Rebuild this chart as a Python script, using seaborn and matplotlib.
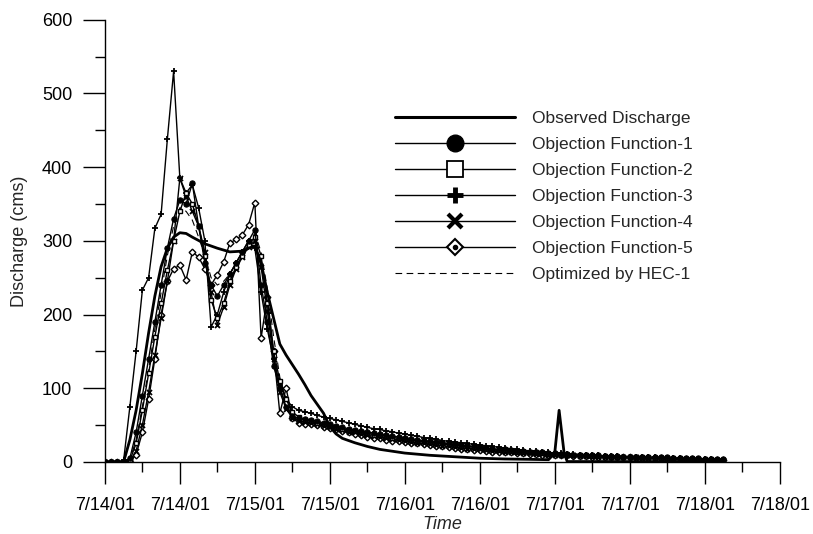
"""Observed vs simulated discharge hydrographs, July 2001 storm."""

import matplotlib

matplotlib.use("Agg")
import matplotlib.dates as mdates
import matplotlib.pyplot as plt
import pandas as pd
import seaborn as sns
from matplotlib.legend_handler import HandlerTuple
from matplotlib.lines import Line2D

START = pd.Timestamp("2001-07-14 00:00")
END = pd.Timestamp("2001-07-18 12:00")

# hourly model output, t = 0 .. 99 h after START
model_hours = list(range(100))

f1_q = [0, 0, 0, 0,
        5, 40, 90, 140, 190, 240, 290, 330, 355, 350,
        378, 320, 270, 240, 225, 240, 255, 270, 285, 300,
        315, 240, 190, 130, 100, 75, 62, 59, 58,
        57, 55, 53, 51, 49, 47, 45, 43, 42, 41,
        39, 38, 36, 35, 34, 33, 31, 30, 29, 28,
        27, 26, 25, 24, 23, 22, 21, 20, 19, 18,
        17, 17, 16, 15, 15, 14, 13, 13, 12, 12,
        11, 11, 10, 10, 9, 9, 9, 8, 8, 8,
        7, 7, 7, 7, 6, 6, 6, 6, 5, 5,
        5, 5, 5, 4, 4, 4, 4]

f2_q = [0, 0, 0, 0,
        2, 25, 70, 120, 170, 215, 260, 300, 340, 365,
        350, 320, 280, 220, 195, 215, 245, 265, 280, 295,
        305, 280, 215, 150, 110, 85, 68, 61, 57,
        55, 53, 51, 49, 47, 45, 43, 42, 40, 39,
        37, 36, 35, 33, 32, 31, 30, 29, 28, 27,
        26, 25, 24, 23, 22, 21, 20, 19, 18, 17,
        16, 16, 15, 14, 14, 13, 13, 12, 11, 11,
        10, 10, 10, 9, 9, 8, 8, 8, 7, 7,
        7, 6, 6, 6, 6, 5, 5, 5, 5, 5,
        4, 4, 4, 4, 4, 3, 3]

f3_q = [0, 0, 0, 2,
        75, 150, 233, 250, 317, 336, 438, 530, 385, 365,
        376, 345, 300, 183, 200, 230, 255, 270, 285, 300,
        290, 230, 180, 140, 105, 85, 75, 70, 68,
        66, 63, 61, 59, 57, 55, 53, 51, 49, 47,
        45, 44, 42, 41, 39, 38, 36, 35, 33, 32,
        31, 29, 28, 27, 26, 25, 24, 23, 22, 21,
        20, 19, 18, 17, 16, 15, 15, 14, 13, 12,
        12, 11, 11, 10, 10, 9, 9, 8, 8, 8,
        7, 7, 7, 6, 6, 6, 5, 5, 5, 5,
        4, 4, 4, 4, 4, 3, 3]

f4_q = [0, 0, 0, 0,
        0, 15, 50, 95, 145, 195, 245, 300, 385, 360,
        340, 320, 285, 230, 186, 210, 240, 262, 278, 292,
        300, 265, 205, 140, 95, 72, 60, 56, 54,
        53, 51, 49, 47, 45, 43, 41, 40, 38, 36,
        35, 34, 32, 31, 30, 29, 27, 26, 25, 24,
        23, 22, 21, 20, 19, 18, 18, 17, 16, 15,
        15, 14, 13, 13, 12, 12, 11, 11, 10, 10,
        9, 9, 9, 8, 8, 8, 7, 7, 7, 6,
        6, 6, 6, 5, 5, 5, 5, 5, 4, 4,
        4, 4, 4, 3, 3, 3, 3]

f5_q = [0, 0, 0, 0,
        0, 10, 40, 85, 140, 200, 245, 262, 267, 247,
        285, 278, 262, 240, 254, 271, 297, 302, 308, 322,
        352, 168, 224, 150, 66, 100, 60, 53, 52,
        52, 50, 48, 46, 44, 42, 40, 38, 36, 34,
        33, 32, 30, 29, 28, 27, 26, 25, 24, 23,
        22, 21, 20, 19, 18, 17, 16, 16, 15, 14,
        14, 13, 13, 12, 12, 11, 11, 10, 10, 9,
        9, 9, 8, 8, 8, 7, 7, 7, 6, 6,
        6, 6, 5, 5, 5, 5, 5, 4, 4, 4,
        4, 4, 3, 3, 3, 3, 3]

hec_q = [0, 0, 0, 0,
         3, 30, 75, 125, 180, 230, 280, 320, 345, 340,
         328, 305, 280, 250, 240, 245, 255, 270, 285, 298,
         310, 285, 235, 170, 115, 80, 62, 52, 50,
         54, 52, 50, 48, 46, 44, 42, 41, 39, 38,
         36, 35, 34, 32, 31, 30, 29, 28, 27, 26,
         25, 24, 23, 22, 21, 20, 19, 18, 17, 16,
         16, 15, 14, 14, 13, 12, 12, 11, 11, 10,
         10, 10, 9, 9, 8, 8, 8, 7, 7, 7,
         6, 6, 6, 6, 5, 5, 5, 5, 5, 4,
         4, 4, 4, 4, 3, 3, 3]

# observed gauge record (irregular readings)
obs_hours = [0, 3, 4, 5, 6, 7, 8, 9, 10, 11,
             12, 13, 14, 16, 18, 20, 22, 23, 24, 25,
             26, 27, 28, 29, 30, 31, 32, 33, 34, 35,
             36, 37, 38, 40, 42, 44, 48, 52, 56, 60,
             64, 68, 71, 72, 72.7, 73.5, 74, 80, 90, 99]
obs_q = [0, 0, 30, 70, 120, 175, 225, 265, 290, 305,
         311, 310, 305, 296, 290, 285, 286, 290, 293, 270,
         230, 195, 160, 145, 132, 119, 105, 90, 78, 66,
         48, 38, 32, 26, 21, 17, 12, 9, 7, 5,
         4, 3.5, 3, 12, 70, 12, 0.5, 0.5, 0.3, 0.3]

labels = ["Observed Discharge", "Objection Function-1", "Objection Function-2",
          "Objection Function-3", "Objection Function-4", "Objection Function-5",
          "Optimized by HEC-1"]


def to_time(hours):
    return START + pd.to_timedelta(hours, unit="h")


def main():
    sns.set_theme(style="ticks")
    plt.rcParams["font.family"] = ["Liberation Sans", "DejaVu Sans"]
    plt.rcParams["font.size"] = 13

    fig = plt.figure(figsize=(8.13, 5.34), dpi=100)
    ax = fig.add_axes([0.129, 0.135, 0.830, 0.828])

    t_model = to_time(model_hours)
    t_obs = to_time(obs_hours)
    # seaborn defaults marker edges to white, so force black edges
    thin = dict(color="black", lw=1.0, mec="black", linestyle="-")

    sns.lineplot(x=t_model, y=hec_q, ax=ax, color="black", lw=0.8,
                 linestyle=(0, (6, 4)))
    sns.lineplot(x=t_model, y=f5_q, ax=ax, marker="D", markersize=3.4, mfc="white",
                 mew=1.0, **thin)
    sns.lineplot(x=t_model, y=f4_q, ax=ax, marker="x", markersize=3.6, mew=1.3, **thin)
    sns.lineplot(x=t_model, y=f3_q, ax=ax, marker="+", markersize=4.6, mew=1.3, **thin)
    sns.lineplot(x=t_model, y=f2_q, ax=ax, marker="s", markersize=3.4, mfc="white",
                 mew=1.0, **thin)
    sns.lineplot(x=t_model, y=f1_q, ax=ax, marker="o", markersize=3.8, **thin)
    sns.lineplot(x=t_obs, y=obs_q, ax=ax, color="black", lw=2.0, linestyle="-")

    ax.set_xlim(START, END)
    ax.set_ylim(0, 600)
    ax.set_yticks(range(0, 601, 100))
    ax.set_yticks(range(50, 600, 100), minor=True)
    ax.xaxis.set_major_locator(mdates.HourLocator(byhour=[0, 12]))
    ax.xaxis.set_minor_locator(mdates.HourLocator(byhour=[6, 18]))
    ax.xaxis.set_major_formatter(mdates.DateFormatter("%-m/%d/%y"))

    ax.tick_params(which="major", direction="out", length=15.5, width=1, colors="black",
                   labelsize=13)
    ax.tick_params(which="minor", direction="out", length=7.5, width=1, colors="black")
    ax.tick_params(axis="x", which="major", pad=10)
    ax.tick_params(axis="y", which="major", pad=8)
    for side in ("top", "right"):
        ax.spines[side].set_visible(False)
    for side in ("left", "bottom"):
        ax.spines[side].set_color("black")
        ax.spines[side].set_linewidth(1)

    ax.set_xlabel("Time", fontsize=13, style="italic", labelpad=1)
    ax.set_ylabel("Discharge (cms)", fontsize=13, labelpad=10)

    handles = [
        Line2D([], [], color="black", lw=2.2),
        Line2D([], [], color="black", lw=1, marker="o", markersize=12),
        Line2D([], [], color="black", lw=1, marker="s", markersize=11, mfc="white",
               mew=1.3),
        Line2D([], [], color="black", lw=1, marker="+", markersize=12, mew=3.5),
        Line2D([], [], color="black", lw=1, marker="x", markersize=10, mew=3),
        (Line2D([], [], color="black", lw=1, marker="D", markersize=8, mfc="white",
                mew=1.5),
         Line2D([], [], color="black", lw=0, marker="o", markersize=3)),
        Line2D([], [], color="black", lw=0.8, linestyle=(0, (6, 4))),
    ]
    ax.legend(handles, labels, loc="upper left", frameon=False, fontsize=12.5,
              bbox_to_anchor=(395 / 813, 1 - 111 / 534), bbox_transform=fig.transFigure,
              borderpad=0, borderaxespad=0, handlelength=6.9, handletextpad=1.0,
              labelspacing=0.62, handler_map={tuple: HandlerTuple(ndivide=1)})

    fig.savefig("out.png", dpi=100)
    plt.close(fig)


if __name__ == "__main__":
    main()
